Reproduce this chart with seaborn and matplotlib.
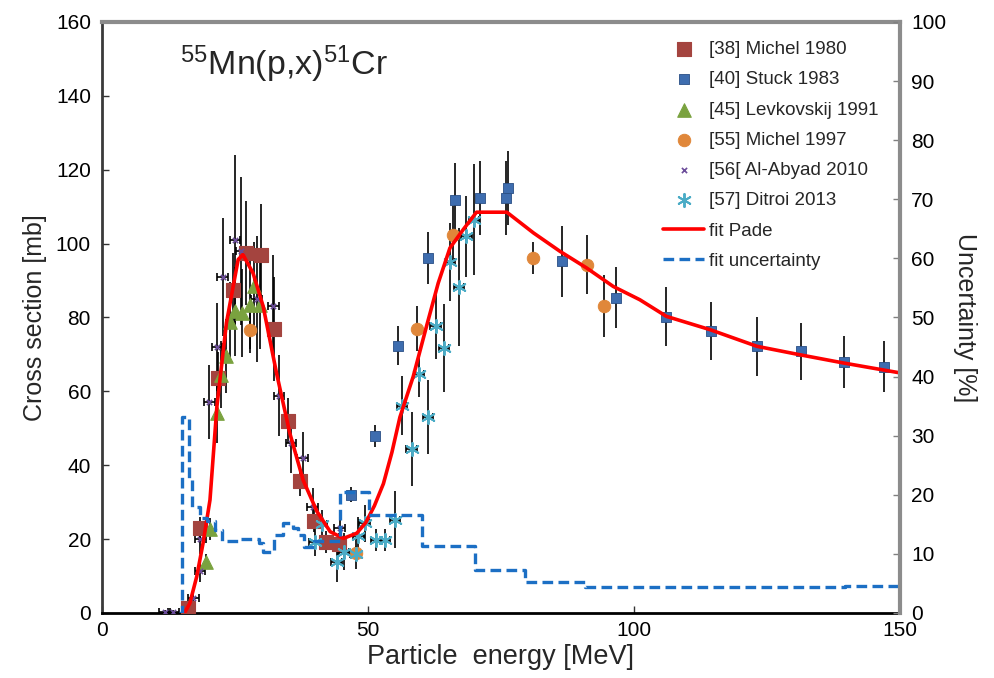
import matplotlib
matplotlib.use("Agg")
import matplotlib.pyplot as plt
import seaborn as sns

sns.set_theme(style="white")
plt.rcParams["font.family"] = ["Liberation Sans", "DejaVu Sans"]
plt.rcParams["mathtext.fontset"] = "custom"
plt.rcParams["mathtext.rm"] = "Liberation Sans"
plt.rcParams["mathtext.default"] = "regular"

# Experimental data (energy MeV, cross section mb, error mb)
michel80_x = [16.2, 18.5, 21.9, 24.7, 27.1, 29.8, 32.4, 35.0, 37.3, 39.8, 42.2, 44.6]
michel80_y = [1.3, 22.9, 63.6, 87.5, 97.5, 96.8, 76.9, 52.1, 35.6, 24.9, 19.3, 18.6]
michel80_e = [1, 3, 7, 10, 14, 14, 14, 6, 4, 3, 3, 3]

stuck_x = [46.9, 51.3, 55.6, 61.2, 66.3, 71.1, 75.9, 76.3, 86.5, 96.7, 106.0, 114.5, 123.2, 131.4, 139.5, 147.0]
stuck_y = [32.0, 48.0, 72.4, 96.1, 111.9, 112.4, 112.4, 115.1, 95.2, 85.4, 80.2, 76.4, 72.2, 70.8, 67.9, 66.7]
stuck_e = [2, 3, 5.4, 7, 10, 10, 10, 10, 9.6, 8.2, 8, 7.9, 8, 7.8, 7, 6.9]

levk_x = [19.5, 20.3, 21.6, 22.3, 23.3, 24.1, 25.0, 26.4, 27.8, 28.6, 29.7]
levk_y = [13.9, 22.7, 54.1, 64.5, 69.5, 78.7, 81.7, 81.2, 83.5, 88.4, 83.5]
levk_e = [2, 3, 8, 9, 10, 11, 12, 12, 12, 12, 12]

michel97_x = [27.8, 47.7, 59.3, 65.9, 81.0, 91.1, 94.4]
michel97_y = [76.5, 16.2, 77.0, 102.2, 96.1, 94.3, 83.2]
michel97_e = [6, 2, 6, 8, 4.2, 7.9, 8.4]

abyad_x = [11.8, 13.4, 17.2, 18.4, 18.5, 20.2, 21.6, 22.7, 25.0, 26.1, 29.1, 32.2, 33.3, 35.5, 37.7, 39.6, 44.7]
abyad_y = [0.3, 0.3, 4.0, 11.4, 20.0, 57.0, 72.0, 91.0, 101.1, 97.9, 85.0, 83.0, 58.8, 46.0, 41.9, 28.8, 22.9]
abyad_e = [0.5, 0.5, 1.5, 3, 4, 10, 12, 16, 23, 20, 17, 14, 11, 8, 7, 5, 4]
abyad_xe = [1.0] * 17

ditroi_x = [40.0, 41.3, 44.1, 45.4, 47.7, 48.2, 49.4, 51.5, 53.2, 55.1, 56.4, 58.2, 59.6, 61.3, 62.7, 64.3, 65.4, 67.1, 68.5, 69.9]
ditroi_y = [19.1, 24.0, 13.9, 16.6, 16.0, 20.9, 24.3, 19.8, 19.8, 25.2, 56.1, 44.4, 64.8, 53.0, 77.8, 71.7, 95.0, 88.2, 102.0, 106.5]
ditroi_e = [3.6, 4, 5.6, 5, 4, 5, 5, 3, 3, 7.7, 8, 10, 6.3, 10, 9, 12, 10.6, 16, 11, 15]
ditroi_xe = [1.0] * 20

# Pade fit
fit_x = [15.5, 16.5, 17.8, 19.0, 20.3, 21.6, 23.4, 25.6, 26.5, 28.4, 30.3, 32.8, 35.3, 37.8, 40.4,
         42.9, 45.4, 47.9, 49.6, 51.2, 52.9, 54.5, 56.0, 58.5, 61.0, 63.2, 65.4, 67.9, 70.4, 76.1,
         81.1, 86.1, 91.1, 96.1, 101.1, 106.1, 114.3, 123.1, 131.2, 139.3, 150]
fit_y = [0, 2.6, 9.8, 18.9, 30.6, 55.9, 78.6, 95.7, 97.0, 92.0, 83.0, 65.0, 48.7, 36.0, 27.5,
         22.0, 20.2, 21.6, 24.5, 29.0, 35.0, 43.5, 53.0, 64.0, 77.6, 89.3, 98.8, 103.8, 108.5, 108.5,
         102.9, 97.9, 93.4, 88.4, 84.8, 80.3, 76.7, 72.2, 69.9, 67.7, 65.0]

# Fit uncertainty (%), step function
unc_x = [14.5, 15.1, 16.4, 17.0, 18.4, 19.7, 21.2, 22.5, 25.9, 29.6, 30.3, 32.3, 34.1, 35.9, 36.9,
         38.0, 39.8, 44.7, 50.1, 60.1, 70.1, 79.5, 90.8, 139.7, 150]
unc_y = [0, 33.2, 22.5, 18.0, 16.0, 15.5, 14.0, 12.1, 12.6, 11.8, 10.3, 13.2, 15.2, 14.3, 13.2,
         11.2, 12.1, 20.5, 16.6, 11.4, 7.3, 5.2, 4.4, 4.6, 4.6]

fig = plt.figure(figsize=(9.95, 6.78), dpi=100)
ax = fig.add_axes([0.1025, 0.0959, 0.802, 0.8717])


def bars(x, y, yerr, xerr=None):
    ax.errorbar(x, y, yerr=yerr, fmt="none", ecolor="black", elinewidth=1.2, capsize=0, zorder=2)
    if xerr is not None:
        ax.errorbar(x, y, xerr=xerr, fmt="none", ecolor="black", elinewidth=1.2,
                    capsize=3, capthick=1.2, zorder=2)


bars(michel80_x, michel80_y, michel80_e)
bars(stuck_x, stuck_y, stuck_e)
bars(levk_x, levk_y, levk_e)
bars(michel97_x, michel97_y, michel97_e)
bars(abyad_x, abyad_y, abyad_e, abyad_xe)
bars(ditroi_x, ditroi_y, ditroi_e, ditroi_xe)

sns.scatterplot(x=michel80_x, y=michel80_y, marker="s", s=100, color="#A4443F", edgecolor="#A4443F",
                label="[38] Michel 1980", ax=ax, zorder=3)
sns.scatterplot(x=stuck_x, y=stuck_y, marker="s", s=55, color="#3E6DAF", edgecolor="#2a4f85",
                linewidth=0.6, label="[40] Stuck 1983", ax=ax, zorder=3)
sns.scatterplot(x=levk_x, y=levk_y, marker="^", s=95, color="#7AA23F", edgecolor="#7AA23F",
                label="[45] Levkovskij 1991", ax=ax, zorder=3)
sns.scatterplot(x=michel97_x, y=michel97_y, marker="o", s=80, color="#E0873A", edgecolor="#E0873A",
                label="[55] Michel 1997", ax=ax, zorder=3)
sns.scatterplot(x=abyad_x, y=abyad_y, marker="x", s=14, color="#6B4C9A", linewidth=1.2,
                label="[56[ Al-Abyad 2010", ax=ax, zorder=3)
sns.scatterplot(x=ditroi_x, y=ditroi_y, marker=(6, 2, 0), s=90, color="#4BACC6", linewidth=1.4,
                label="[57] Ditroi 2013", ax=ax, zorder=3)
sns.lineplot(x=fit_x, y=fit_y, color="#FF0000", linewidth=2.6, sort=False, estimator=None,
             label="fit Pade", ax=ax, zorder=4)

ax.set_xlim(0, 150)
ax.set_ylim(0, 160)
ax.set_xticks([0, 50, 100, 150])
ax.set_yticks(range(0, 161, 20))
ax.tick_params(axis="both", direction="in", length=5, width=1, labelsize=15,
               bottom=True, left=True, colors="#333333", labelcolor="black")
ax.tick_params(axis="y", pad=8)
ax.tick_params(axis="x", pad=6)
ax.set_xlabel("Particle  energy [MeV]", fontsize=19.5, labelpad=3)
ax.set_ylabel("Cross section [mb]", fontsize=18, labelpad=6)

ax2 = ax.twinx()
sns.lineplot(x=unc_x, y=unc_y, color="#1C6FC4", linewidth=2.4, linestyle=(0, (3.2, 1.6)),
             drawstyle="steps-post", sort=False, estimator=None, label="fit uncertainty", ax=ax2)
ax2.set_ylim(0, 100)
ax2.set_yticks(range(0, 101, 10))
ax2.tick_params(axis="y", direction="in", length=5, width=1, labelsize=15, right=True,
                pad=8, colors="#808080", labelcolor="black")
ax2.set_ylabel("Uncertainty [%]", fontsize=18, rotation=270, labelpad=22)

for a in (ax, ax2):
    for sp in a.spines.values():
        sp.set_visible(False)
ax.spines["left"].set_visible(True)
ax.spines["left"].set_color("#3a3a3a")
ax.spines["left"].set_linewidth(2)
ax.spines["bottom"].set_visible(True)
ax.spines["bottom"].set_color("black")
ax.spines["bottom"].set_linewidth(2)
ax.spines["top"].set_visible(True)
ax.spines["top"].set_color("#8c8c8c")
ax.spines["top"].set_linewidth(3)
ax2.spines["right"].set_visible(True)
ax2.spines["right"].set_color("#8c8c8c")
ax2.spines["right"].set_linewidth(3)

ax.text(14.7, 148.5, r"$^{55}$Mn(p,x)$^{51}$Cr", fontsize=24.5, va="center", ha="left")

h1, l1 = ax.get_legend_handles_labels()
h2, l2 = ax2.get_legend_handles_labels()
for a in (ax, ax2):
    if a.get_legend() is not None:
        a.get_legend().remove()
ax2.legend(h1 + h2, l1 + l2, loc="upper left", bbox_to_anchor=(0.703, 0.968), frameon=False,
           fontsize=13.5, borderpad=0, borderaxespad=0, labelspacing=0.7,
           handlelength=2.2, handletextpad=0.25)

fig.savefig("out.png", dpi=100)
